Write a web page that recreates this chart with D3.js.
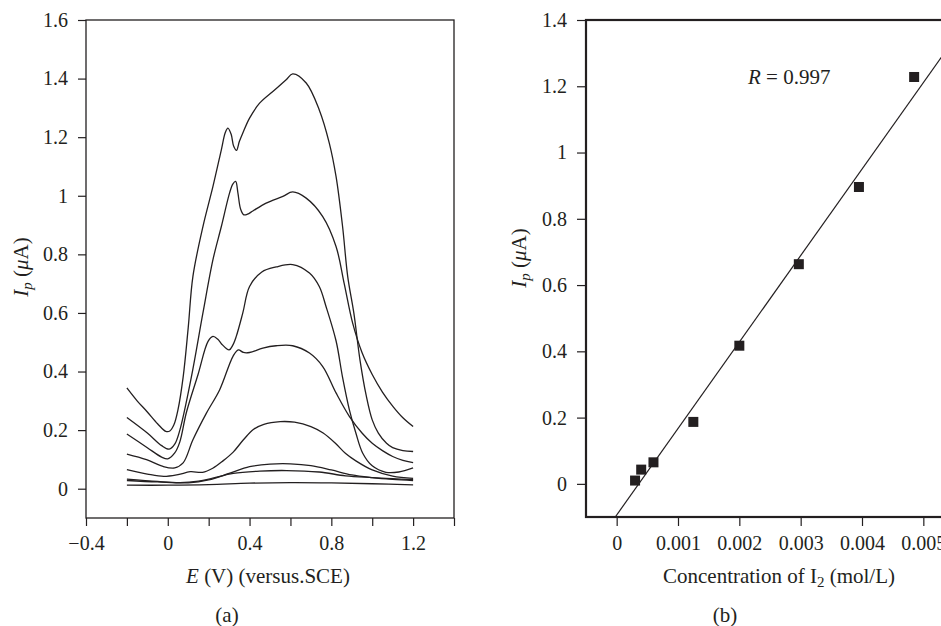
<!DOCTYPE html>
<html>
<head>
<meta charset="utf-8">
<script src="https://cdn.jsdelivr.net/npm/d3@7"></script>
<style>
    body { margin: 0; background: #fff; }
    svg text { font-family: "Liberation Serif", "DejaVu Serif", serif; fill: #231f20; }
</style>
</head>
<body>
<div id="chart"></div>
<script>
// (a) voltammograms: [E (V), Ip (uA)], one array per curve
const curve1 = [[-0.2,0.344],[-0.15,0.3],[-0.1,0.262],[-0.05,0.222],[-0.01,0.196],[0.01,0.197],[0.03,0.218],[0.05,0.27],[0.075,0.38],[0.1,0.55],[0.123,0.725],[0.172,0.895],[0.221,1.032],[0.262,1.157],[0.281,1.215],[0.294,1.231],[0.31,1.21],[0.322,1.17],[0.336,1.155],[0.35,1.185],[0.367,1.214],[0.4,1.265],[0.449,1.316],[0.514,1.356],[0.579,1.396],[0.611,1.416],[0.677,1.385],[0.741,1.293],[0.79,1.18],[0.823,1.066],[0.855,0.895],[0.88,0.725],[0.91,0.6],[0.94,0.44],[0.97,0.32],[1.0,0.235],[1.03,0.19],[1.07,0.155],[1.1,0.14],[1.15,0.13],[1.2,0.127]];
const curve2 = [[-0.2,0.243],[-0.1,0.19],[-0.03,0.147],[0.007,0.135],[0.034,0.152],[0.059,0.2],[0.115,0.38],[0.172,0.6],[0.221,0.782],[0.262,0.895],[0.302,1.009],[0.318,1.04],[0.332,1.049],[0.343,1.01],[0.356,0.955],[0.372,0.935],[0.39,0.937],[0.416,0.948],[0.481,0.975],[0.563,0.998],[0.611,1.013],[0.677,0.992],[0.758,0.929],[0.823,0.827],[0.863,0.7],[0.904,0.566],[0.95,0.465],[1.0,0.39],[1.05,0.33],[1.1,0.282],[1.15,0.242],[1.2,0.212]];
const curve3 = [[-0.2,0.187],[-0.1,0.14],[-0.03,0.108],[0.0,0.102],[0.034,0.122],[0.059,0.16],[0.091,0.26],[0.148,0.39],[0.197,0.503],[0.221,0.52],[0.245,0.51],[0.262,0.495],[0.3,0.474],[0.318,0.49],[0.335,0.52],[0.367,0.6],[0.4,0.69],[0.46,0.74],[0.53,0.757],[0.611,0.765],[0.693,0.736],[0.741,0.69],[0.774,0.622],[0.823,0.505],[0.855,0.38],[0.888,0.27],[0.92,0.19],[0.953,0.122],[1.0,0.078],[1.067,0.056],[1.13,0.057],[1.2,0.071]];
const curve4 = [[-0.2,0.118],[-0.104,0.099],[-0.023,0.076],[0.034,0.071],[0.075,0.088],[0.123,0.167],[0.189,0.258],[0.254,0.338],[0.319,0.452],[0.345,0.474],[0.37,0.465],[0.4,0.465],[0.465,0.48],[0.53,0.488],[0.611,0.488],[0.693,0.463],[0.758,0.417],[0.823,0.327],[0.888,0.247],[0.95,0.19],[1.0,0.155],[1.05,0.13],[1.1,0.11],[1.15,0.097],[1.2,0.089]];
const curve5 = [[-0.2,0.065],[-0.1,0.05],[-0.02,0.042],[0.05,0.048],[0.11,0.058],[0.17,0.056],[0.22,0.07],[0.27,0.095],[0.32,0.125],[0.37,0.167],[0.42,0.203],[0.47,0.22],[0.55,0.229],[0.62,0.227],[0.7,0.212],[0.76,0.19],[0.82,0.155],[0.87,0.12],[0.92,0.095],[1.0,0.064],[1.1,0.043],[1.2,0.035]];
const curve6 = [[-0.2,0.028],[-0.05,0.023],[0.1,0.02],[0.2,0.03],[0.3,0.052],[0.4,0.075],[0.5,0.084],[0.6,0.085],[0.7,0.079],[0.8,0.064],[0.9,0.047],[1.0,0.038],[1.1,0.032],[1.2,0.028]];
const curve7 = [[-0.2,0.033],[-0.05,0.025],[0.06,0.021],[0.15,0.026],[0.22,0.036],[0.32,0.052],[0.45,0.06],[0.58,0.062],[0.74,0.057],[0.87,0.044],[1.0,0.038],[1.1,0.034],[1.2,0.031]];
const curve8 = [[-0.2,0.012],[0.0,0.012],[0.2,0.014],[0.4,0.019],[0.6,0.021],[0.8,0.02],[1.0,0.017],[1.2,0.013]];
const curvesA = [curve1, curve2, curve3, curve4, curve5, curve6, curve7, curve8];

const ticksXA = [-0.4, 0, 0.4, 0.8, 1.2];
const ticksYA = [0, 0.2, 0.4, 0.6, 0.8, 1, 1.2, 1.4, 1.6];

// (b) calibration
const concentration = [0.0003, 0.0004, 0.0006, 0.00125, 0.002, 0.00297, 0.00395, 0.00485];
const peakCurrent = [0.01, 0.043, 0.065, 0.187, 0.417, 0.663, 0.896, 1.228];
const fitSlope = 261;
const fitIntercept = -0.094;
const rValue = "0.997";
const ticksXB = [0, 0.001, 0.002, 0.003, 0.004, 0.005];
const ticksYB = [0, 0.2, 0.4, 0.6, 0.8, 1, 1.2, 1.4];

const ink = "#231f20";
const fmt = d => String(+d.toFixed(4)).replace("-", "\u2212");

const svg = d3.select("#chart").append("svg")
    .attr("width", 941)
    .attr("height", 626);

function drawAxes(g, xs, ys, xMajor, xMinor, yMajor, yMinor, bottom, left, big, small, pad) {
    const ax = g.append("g").attr("transform", `translate(0,${bottom})`);
    ax.call(d3.axisBottom(xs).tickValues(xMinor).tickSize(small).tickFormat(""));
    ax.call(d3.axisBottom(xs).tickValues(xMajor).tickSize(big).tickPadding(pad).tickFormat(fmt));
    const ay = g.append("g").attr("transform", `translate(${left},0)`);
    ay.call(d3.axisLeft(ys).tickValues(yMinor).tickSize(small).tickFormat(""));
    ay.call(d3.axisLeft(ys).tickValues(yMajor).tickSize(big).tickPadding(pad).tickFormat(fmt));
    g.selectAll(".domain").remove();
    g.selectAll(".tick line").attr("stroke", ink).attr("stroke-width", 1.2);
    g.selectAll(".tick text").style("font-size", "20px").attr("fill", ink);
}

function ipLabel(g, x, y) {
    const t = g.append("text")
        .attr("transform", `translate(${x},${y}) rotate(-90)`)
        .attr("text-anchor", "middle")
        .style("font-size", "21px");
    t.append("tspan").style("font-style", "italic").text("I");
    t.append("tspan").style("font-style", "italic").style("font-size", "15px").attr("dy", "4").text("p");
    t.append("tspan").attr("dy", "-4").text(" (");
    t.append("tspan").style("font-style", "italic").text("\u03bc");
    t.append("tspan").text("A)");
}

// ---- panel (a)
const xA = d3.scaleLinear().domain([-0.4, 1.4]).range([86, 454]);
const yA = d3.scaleLinear().domain([-0.1, 1.6]).range([518, 20]);
const gA = svg.append("g");

const minorXA = d3.range(-4, 15).map(i => i / 10);
const minorYA = d3.range(-1, 17).map(i => i / 10);
drawAxes(gA, xA, yA, ticksXA, minorXA.filter(v => Math.round(v * 10) % 2 !== 0), ticksYA, minorYA.filter(v => Math.round(v * 10) % 2 !== 0), 518, 86, 8, 5, 10);
// x ticks at every 0.2 without label are long too
gA.append("g").attr("transform", "translate(0,518)")
    .call(d3.axisBottom(xA).tickValues([-0.2, 0.2, 0.6, 1.0, 1.4]).tickSize(8).tickFormat(""))
    .call(g => g.select(".domain").remove())
    .selectAll("line").attr("stroke", ink).attr("stroke-width", 1.2);

gA.append("rect")
    .attr("x", xA(-0.4)).attr("y", yA(1.6))
    .attr("width", xA(1.4) - xA(-0.4)).attr("height", yA(-0.1) - yA(1.6))
    .attr("fill", "none").attr("stroke", ink).attr("stroke-width", 1.3);

const lineA = d3.line()
    .x(d => xA(d[0]))
    .y(d => yA(d[1]))
    .curve(d3.curveCatmullRom.alpha(0.5));

gA.selectAll(".curve")
    .data(curvesA)
    .enter()
    .append("path")
    .attr("class", "curve")
    .attr("d", lineA)
    .attr("fill", "none")
    .attr("stroke", ink)
    .attr("stroke-width", 1.3);

ipLabel(gA, 28, 267);

const tA = gA.append("text")
    .attr("x", 268).attr("y", 583)
    .attr("text-anchor", "middle")
    .style("font-size", "21px");
tA.append("tspan").style("font-style", "italic").text("E");
tA.append("tspan").text(" (V) (versus.SCE)");

gA.append("text")
    .attr("x", 227).attr("y", 622)
    .attr("text-anchor", "middle")
    .style("font-size", "21px")
    .text("(a)");

// ---- panel (b)
const xB = d3.scaleLinear().domain([-0.0005, 0.0055]).range([586, 954]);
const yB = d3.scaleLinear().domain([-0.1, 1.4]).range([517, 20]);
const gB = svg.append("g");

const minorXB = [-0.0005, 0.0005, 0.0015, 0.0025, 0.0035, 0.0045, 0.0055];
const minorYB = [-0.1, 0.1, 0.3, 0.5, 0.7, 0.9, 1.1, 1.3];
drawAxes(gB, xB, yB, ticksXB, minorXB, ticksYB, minorYB, 517, 586, 9, 6, 10);

gB.append("rect")
    .attr("x", xB(-0.0005)).attr("y", yB(1.4))
    .attr("width", xB(0.0055) - xB(-0.0005)).attr("height", yB(-0.1) - yB(1.4))
    .attr("fill", "none").attr("stroke", ink).attr("stroke-width", 2.2);

svg.append("clipPath").attr("id", "clipB")
    .append("rect")
    .attr("x", xB(-0.0005)).attr("y", yB(1.4))
    .attr("width", xB(0.0055) - xB(-0.0005)).attr("height", yB(-0.1) - yB(1.4));

const fitX = [(-0.1 - fitIntercept) / fitSlope, 0.0055];
gB.append("line")
    .attr("clip-path", "url(#clipB)")
    .attr("x1", xB(fitX[0])).attr("y1", yB(fitSlope * fitX[0] + fitIntercept))
    .attr("x2", xB(fitX[1])).attr("y2", yB(fitSlope * fitX[1] + fitIntercept))
    .attr("stroke", ink).attr("stroke-width", 1.2);

const sq = 10;
gB.selectAll(".pt")
    .data(concentration.map((c, i) => [c, peakCurrent[i]]))
    .enter()
    .append("rect")
    .attr("class", "pt")
    .attr("x", d => xB(d[0]) - sq / 2)
    .attr("y", d => yB(d[1]) - sq / 2)
    .attr("width", sq).attr("height", sq)
    .attr("fill", ink);

const tR = gB.append("text")
    .attr("x", 748).attr("y", 84)
    .style("font-size", "21px");
tR.append("tspan").style("font-style", "italic").text("R");
tR.append("tspan").text(" = " + rValue);

ipLabel(gB, 526, 258);

const tB = gB.append("text")
    .attr("x", 779).attr("y", 583)
    .attr("text-anchor", "middle")
    .style("font-size", "21px");
tB.append("tspan").text("Concentration of I");
tB.append("tspan").style("font-size", "15px").attr("dy", "4").text("2");
tB.append("tspan").attr("dy", "-4").text(" (mol/L)");

gB.append("text")
    .attr("x", 725).attr("y", 622)
    .attr("text-anchor", "middle")
    .style("font-size", "21px")
    .text("(b)");
</script>
</body>
</html>
